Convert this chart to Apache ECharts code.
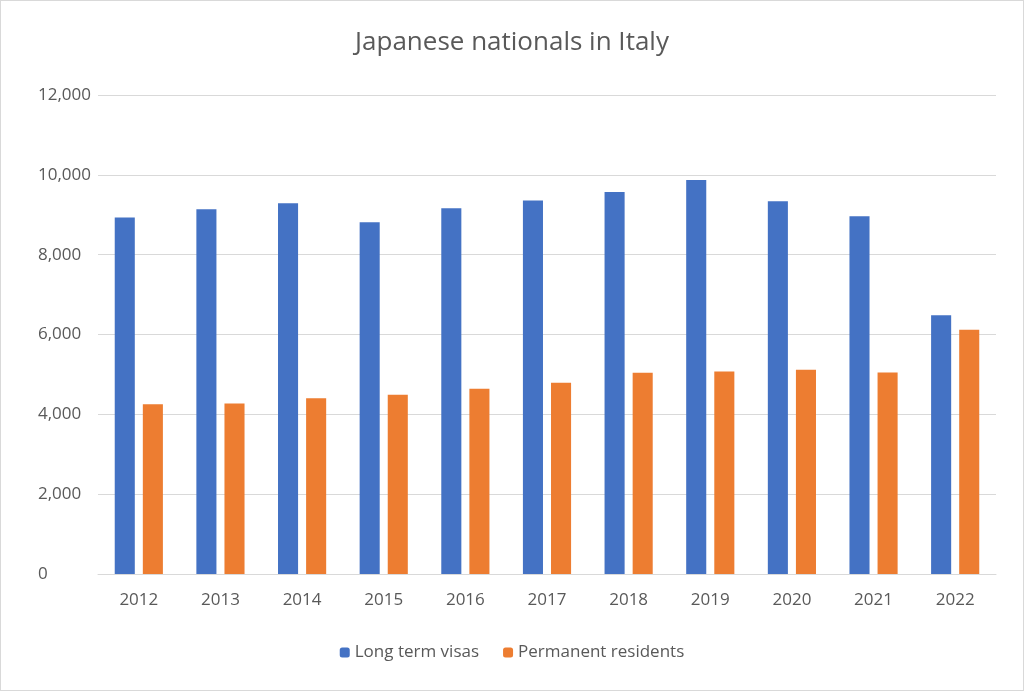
<!DOCTYPE html>
<html>
<head>
<meta charset="utf-8">
<script src="https://cdn.jsdelivr.net/npm/echarts@6/dist/echarts.min.js"></script>
<style>
  html, body { margin: 0; padding: 0; background: #fff; }
  #chart { width: 1022px; height: 689px; border: 1px solid #d9d9d9; }
</style>
</head>
<body>
<div id="chart"></div>
<script>
// 数据
var years = ['2012','2013','2014','2015','2016','2017','2018','2019','2020','2021','2022'];
var longTerm = [8930, 9140, 9290, 8810, 9160, 9360, 9570, 9870, 9340, 8960, 6480];
var permanent = [4250, 4270, 4400, 4490, 4640, 4790, 5040, 5070, 5120, 5050, 6120];

var chart = echarts.init(document.getElementById('chart'));
chart.setOption({
  animation: false,
  textStyle: { fontFamily: 'Open Sans, sans-serif' },
  title: {
    text: 'Japanese nationals in Italy',
    left: 'center', top: 24,
    textStyle: { fontSize: 26, fontWeight: 'normal', color: '#595959' }
  },
  legend: {
    bottom: 24, itemWidth: 10, itemHeight: 10, itemGap: 24,
    textStyle: { fontSize: 17, color: '#595959' },
    data: ['Long term visas', 'Permanent residents']
  },
  grid: { left: 97, right: 27, top: 94, bottom: 116 },
  xAxis: {
    type: 'category', data: years,
    axisTick: { show: false },
    axisLine: { lineStyle: { color: '#d9d9d9' } },
    axisLabel: { fontSize: 17, color: '#595959', margin: 18 }
  },
  yAxis: {
    type: 'value', min: 0, max: 12000, interval: 2000,
    axisLabel: { fontSize: 17, color: '#595959', margin: 60, align: 'left' },
    splitLine: { lineStyle: { color: '#d9d9d9' } }
  },
  series: [
    { name: 'Long term visas', type: 'bar', data: longTerm,
      itemStyle: { color: '#4472c4' }, barGap: '40%', barCategoryGap: '41%' },
    { name: 'Permanent residents', type: 'bar', data: permanent,
      itemStyle: { color: '#ed7d31' } }
  ]
});
</script>
</body>
</html>
